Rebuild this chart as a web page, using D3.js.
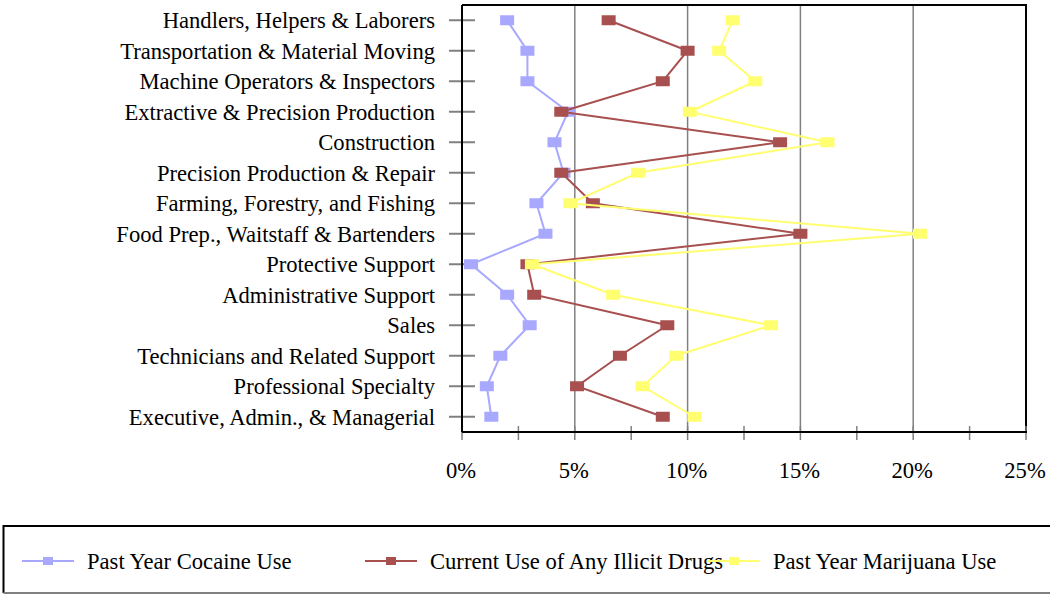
<!DOCTYPE html>
<html><head><meta charset="utf-8">
<script src="https://cdn.jsdelivr.net/npm/d3@7"></script>
<style>body{margin:0;background:#fff}svg{display:block}text{font-family:"Liberation Serif","Times New Roman",serif;}</style>
</head><body><svg id="c" width="1050" height="594"></svg>
<script>
const categories = ["Handlers, Helpers & Laborers","Transportation & Material Moving","Machine Operators & Inspectors","Extractive & Precision Production","Construction","Precision Production & Repair","Farming, Forestry, and Fishing","Food Prep., Waitstaff & Bartenders","Protective Support","Administrative Support","Sales","Technicians and Related Support","Professional Specialty","Executive, Admin., & Managerial"];
const cocaine   = [2.0, 2.9, 2.9, 4.7, 4.1, 4.5, 3.3, 3.7, 0.4, 2.0, 3.0, 1.7, 1.1, 1.3];
const illicit   = [6.5, 10.0, 8.9, 4.4, 14.1, 4.4, 5.8, 15.0, 2.9, 3.2, 9.1, 7.0, 5.1, 8.9];
const marijuana = [12.0, 11.4, 13.0, 10.1, 16.2, 7.8, 4.8, 20.3, 3.1, 6.7, 13.7, 9.5, 8.0, 10.3];
const seriesNames = ["Past Year Cocaine Use","Current Use of Any Illicit Drugs","Past Year Marijuana Use"];
const colors = ["#a8a8ff","#a8504f","#ffff70"];
const xTicks = [0,5,10,15,20,25];
const minorTicks = [2.5,7.5,12.5,17.5,22.5];

const svg = d3.select("#c");
const L=462,R=1026,T=5,B=432;
const x = d3.scaleLinear().domain([0,25]).range([L,R]);
const y = d3.scaleBand().domain(categories).range([T,B]);
const yc = d => y(d)+y.bandwidth()/2;

// gridlines
svg.append("g").selectAll("line").data(xTicks.filter(d=>d>0&&d<25)).join("line")
  .attr("x1",d=>x(d)).attr("x2",d=>x(d)).attr("y1",T).attr("y2",B)
  .attr("stroke","#808080").attr("stroke-width",1.5);
// frame top/right
svg.append("path").attr("d",`M${L},${T}H${R}V${B}`).attr("fill","none").attr("stroke","#000").attr("stroke-width",2);

// y ticks
svg.append("g").selectAll("line").data(categories).join("line")
  .attr("x1",449).attr("x2",475).attr("y1",d=>yc(d)).attr("y2",d=>yc(d))
  .attr("stroke","#808080").attr("stroke-width",2);
// x ticks
svg.append("g").selectAll("line").data(xTicks.concat(minorTicks)).join("line")
  .attr("x1",d=>x(d)).attr("x2",d=>x(d)).attr("y1",426).attr("y2",440)
  .attr("stroke","#808080").attr("stroke-width",1.5);
// axes lines
svg.append("line").attr("x1",L).attr("x2",L).attr("y1",T).attr("y2",B).attr("stroke","#000").attr("stroke-width",2);
svg.append("line").attr("x1",L).attr("x2",R+1).attr("y1",B).attr("y2",B).attr("stroke","#000").attr("stroke-width",2);

// category labels
svg.append("g").selectAll("text").data(categories).join("text")
  .attr("x",435).attr("y",d=>yc(d)).attr("dy","0.35em").attr("text-anchor","end")
  .attr("font-size",22.6).attr("fill","#000").text(d=>d);
// x labels
svg.append("g").selectAll("text").data(xTicks).join("text")
  .attr("x",d=>x(d)-1).attr("y",470).attr("dy","0.35em").attr("text-anchor","middle")
  .attr("font-size",22.6).text(d=>d+"%");

// series
const allSeries=[cocaine,illicit,marijuana];
const line = d3.line().x(d=>x(d.v)).y(d=>yc(d.c));
allSeries.forEach((s,i)=>{
  const pts = s.map((v,j)=>({v,c:categories[j]}));
  const g = svg.append("g");
  g.append("path").datum(pts).attr("d",line).attr("fill","none").attr("stroke",colors[i]).attr("stroke-width",2);
  g.selectAll("rect").data(pts).join("rect")
    .attr("x",d=>x(d.v)-7).attr("y",d=>yc(d.c)-5).attr("width",14).attr("height",10).attr("fill",colors[i]);
});

// legend
svg.append("path").attr("d","M1051,526H3.5V593").attr("fill","none").attr("stroke","#000").attr("stroke-width",2);
svg.append("line").attr("x1",3.5).attr("x2",1051).attr("y1",593).attr("y2",593).attr("stroke","#808080").attr("stroke-width",2);
const lx=[22,365,708];
seriesNames.forEach((n,i)=>{
  const g=svg.append("g").attr("transform",`translate(${lx[i]},561)`);
  g.append("line").attr("x1",0).attr("x2",52).attr("stroke",colors[i]).attr("stroke-width",2);
  g.append("rect").attr("x",21).attr("y",-4).attr("width",10).attr("height",8).attr("fill",colors[i]);
  g.append("text").attr("x",65).attr("dy","0.35em").attr("font-size",22.6).text(n);
});
</script></body></html>
